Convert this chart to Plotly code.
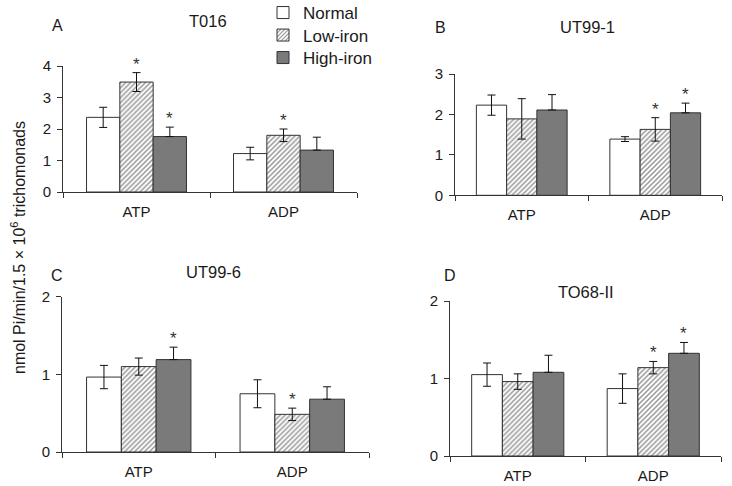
import plotly.graph_objects as go

W, H = 732, 486

categories = ["ATP", "ADP"]
series_names = ["Normal", "Low-iron", "High-iron"]

# Panel A - T016
a_normal = [2.37, 1.22]; a_normal_err = [0.32, 0.20]
a_low = [3.49, 1.80];    a_low_err = [0.30, 0.20]
a_high = [1.76, 1.33];   a_high_err = [0.30, 0.41]
a_stars = [("Low-iron", "ATP"), ("High-iron", "ATP"), ("Low-iron", "ADP")]

# Panel B - UT99-1
b_normal = [2.23, 1.39]; b_normal_err = [0.25, 0.06]
b_low = [1.89, 1.63];    b_low_err = [0.50, 0.29]
b_high = [2.11, 2.04];   b_high_err = [0.38, 0.24]
b_stars = [("Low-iron", "ADP"), ("High-iron", "ADP")]

# Panel C - UT99-6
c_normal = [0.965, 0.75]; c_normal_err = [0.15, 0.18]
c_low = [1.10, 0.485];    c_low_err = [0.11, 0.08]
c_high = [1.19, 0.68];    c_high_err = [0.16, 0.16]
c_stars = [("High-iron", "ATP"), ("Low-iron", "ADP")]

# Panel D - TO68-II
d_normal = [1.05, 0.87]; d_normal_err = [0.15, 0.19]
d_low = [0.96, 1.14];    d_low_err = [0.10, 0.08]
d_high = [1.08, 1.325];  d_high_err = [0.22, 0.14]
d_stars = [("Low-iron", "ADP"), ("High-iron", "ADP")]

y_max = [4, 3, 2, 2]
panel_letters = ["A", "B", "C", "D"]
panel_titles = ["T016", "UT99-1", "UT99-6", "TO68-II"]

panels = [
    (a_normal, a_normal_err, a_low, a_low_err, a_high, a_high_err, a_stars),
    (b_normal, b_normal_err, b_low, b_low_err, b_high, b_high_err, b_stars),
    (c_normal, c_normal_err, c_low, c_low_err, c_high, c_high_err, c_stars),
    (d_normal, d_normal_err, d_low, d_low_err, d_high, d_high_err, d_stars),
]

# layout in page pixels: (x0, x1, ytop, ybottom)
boxes = [(63, 357, 66, 192), (455, 722, 74, 195.3), (62, 369, 296.7, 452), (450, 721, 301, 456)]
letter_pos = [(57, 25), (441, 27), (57, 275), (450, 275)]
title_pos = [(208, 21), (587, 27), (213, 272), (586, 292)]
legend_rows = [13, 35.5, 58]


def px(x):
    return x / W


def py(y):
    return 1 - y / H


BARGAP = 0.32
FONT = "Liberation Sans, Arial, sans-serif"
TXT = "#1a1a1a"
LINE = "#333333"
DARK = "#7a7a7a"

fig = go.Figure()
annotations = []
layout_axes = {}
legend_keys = ["legend", "legend2", "legend3"]

for i, (nv, ne, lv, le, hv, he, stars) in enumerate(panels):
    k = "" if i == 0 else str(i + 1)
    xa, ya = "x" + k, "y" + k
    x0, x1, yt, yb = boxes[i]
    show = i == 0
    err_style = dict(type="data", visible=True, color="#111111", thickness=1, width=4)
    fig.add_trace(go.Bar(
        x=categories, y=nv, name="Normal", legendgroup="n", showlegend=show, legend="legend",
        marker=dict(color="white", line=dict(color=LINE, width=1)),
        error_y=dict(array=ne, **err_style), xaxis=xa, yaxis=ya))
    fig.add_trace(go.Bar(
        x=categories, y=lv, name="Low-iron", legendgroup="l", showlegend=show, legend="legend2",
        marker=dict(color="white", line=dict(color=LINE, width=1),
                    pattern=dict(shape="/", fgcolor="#2a2a2a", bgcolor="white", size=3.5, solidity=0.42)),
        error_y=dict(array=le, **err_style), xaxis=xa, yaxis=ya))
    fig.add_trace(go.Bar(
        x=categories, y=hv, name="High-iron", legendgroup="h", showlegend=show, legend="legend3",
        marker=dict(color=DARK, line=dict(color=LINE, width=1)),
        error_y=dict(array=he, arrayminus=[0] * len(he), symmetric=False, **err_style),
        xaxis=xa, yaxis=ya))

    layout_axes["xaxis" + k] = dict(
        domain=[px(x0), px(x1)], anchor=ya, type="category", categoryorder="array",
        categoryarray=categories, showline=True, linecolor=LINE, linewidth=1,
        ticks="outside", tickson="boundaries", ticklen=5, tickcolor=LINE, automargin=False,
        ticklabelstandoff=6,
        tickfont=dict(size=15, color=TXT, family=FONT), showgrid=False, zeroline=False)
    layout_axes["yaxis" + k] = dict(
        domain=[py(yb), py(yt)], anchor=xa, range=[0, y_max[i]], dtick=1,
        showline=True, linecolor=LINE, linewidth=1, ticks="outside", ticklen=5,
        tickcolor=LINE, tickfont=dict(size=15, color=TXT, family=FONT), automargin=False,
        showgrid=False, zeroline=False, ticklabelstandoff=3)

    # significance stars
    cat_px = (x1 - x0) / len(categories)
    bw = cat_px * (1 - BARGAP) / 3
    vals = {"Normal": (nv, ne), "Low-iron": (lv, le), "High-iron": (hv, he)}
    shifts = {"Normal": -bw, "Low-iron": 0, "High-iron": bw}
    for s, c in stars:
        j = categories.index(c)
        v, e = vals[s]
        annotations.append(dict(
            x=c, y=v[j] + e[j], xref=xa, yref=ya, text="*", showarrow=False,
            xshift=shifts[s], yshift=-3, yanchor="bottom",
            font=dict(size=17, color="#333333", family=FONT)))

    lx, ly = letter_pos[i]
    annotations.append(dict(x=px(lx), y=py(ly), xref="paper", yref="paper", text=panel_letters[i],
                            showarrow=False, xanchor="center", yanchor="middle",
                            font=dict(size=16, color=TXT, family=FONT)))
    tx, ty = title_pos[i]
    annotations.append(dict(x=px(tx), y=py(ty), xref="paper", yref="paper", text=panel_titles[i],
                            showarrow=False, xanchor="center", yanchor="middle",
                            font=dict(size=16.5, color=TXT, family=FONT)))

annotations.append(dict(x=px(18), y=py(248), xref="paper", yref="paper",
                        text="nmol Pi/min/1.5 × 10<sup>6</sup> trichomonads", textangle=-90,
                        showarrow=False, xanchor="center", yanchor="middle",
                        font=dict(size=16, color=TXT, family=FONT)))

legends = {}
for key, row in zip(legend_keys, legend_rows):
    legends[key] = dict(x=px(263), y=py(row), xanchor="left", yanchor="middle",
                        font=dict(size=17, color=TXT, family=FONT), itemwidth=30,
                        bgcolor="rgba(0,0,0,0)", borderwidth=0)

fig.update_layout(
    width=W, height=H, margin=dict(l=0, r=0, t=0, b=0, autoexpand=False),
    paper_bgcolor="white", plot_bgcolor="white",
    barmode="group", bargap=BARGAP, bargroupgap=0,
    font=dict(family=FONT, color=TXT),
    annotations=annotations, **legends, **layout_axes)

fig.write_html("out.html", config={"displayModeBar": False},
               post_script="document.body.style.margin='0';")
